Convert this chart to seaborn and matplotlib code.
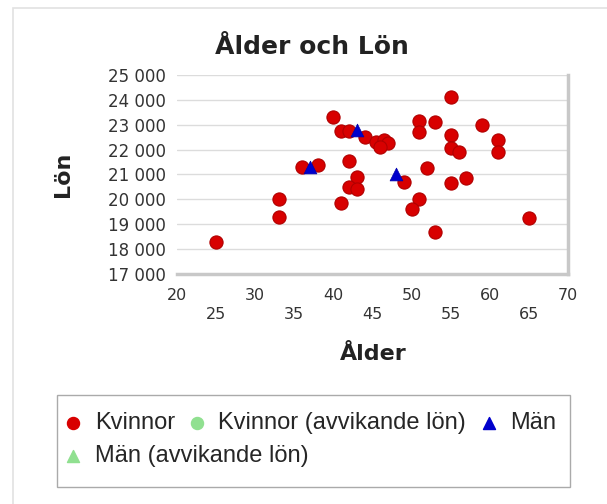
import numpy as np
import pandas as pd
import seaborn as sns
from matplotlib import pyplot as plt
from matplotlib.patches import Rectangle

# data
kvinnor_alder = [25, 33, 33, 36, 38, 40, 41, 42, 44, 45.5, 46.5, 47, 46,
                 42, 43, 42, 43, 41, 55, 51, 51, 53, 59, 55, 55, 56, 61, 61,
                 49, 52, 55, 57, 51, 50, 53, 65]
kvinnor_lon = [18300, 20000, 19300, 21300, 21400, 23300, 22750, 22750, 22500, 22300,
               22400, 22250, 22100, 21550, 20900, 20500, 20400, 19850, 24100, 23150,
               22700, 23100, 23000, 22600, 22050, 21900, 22400, 21900, 20700, 21250,
               20650, 20850, 20000, 19600, 18700, 19250]
man_alder = [37, 43, 48]
man_lon = [21300, 22800, 21000]

x_ticks = list(range(20, 75, 5))
y_ticks = list(range(17000, 26000, 1000))

kv = pd.DataFrame({'Ålder': kvinnor_alder, 'Lön': kvinnor_lon})
ma = pd.DataFrame({'Ålder': man_alder, 'Lön': man_lon})

sns.set_style('white')
plt.rcParams['font.family'] = ['DejaVu Sans']

fig = plt.figure(figsize=(6.07, 5.04), dpi=100)
W, H = 607, 504

# faint outer panel border
fig.patches.append(Rectangle((13 / W, -0.1), 1.2, 1 - 8 / H + 0.1, transform=fig.transFigure,
                             fill=False, edgecolor='#e2e2e2', lw=1.2))

ax = fig.add_axes([177 / W, 1 - 274 / H, 391 / W, 199 / H])

sns.scatterplot(data=kv, x='Ålder', y='Lön', ax=ax, color='#d80000', edgecolor='#b00000',
                linewidth=0.8, s=90, marker='o', label='Kvinnor', zorder=3, legend=False)
sns.scatterplot(data=ma, x='Ålder', y='Lön', ax=ax, color='#0000cc', edgecolor='#0000aa',
                linewidth=0.5, s=85, marker='^', label='Män', zorder=4, legend=False)

ax.set_xlim(20, 70)
ax.set_ylim(17000, 25000)
ax.set_xticks(x_ticks)
ax.set_xticklabels([str(t) for t in x_ticks])
ax.set_yticks(y_ticks)
ax.set_yticklabels([f'{t // 1000} 000' for t in y_ticks])
ax.tick_params(axis='y', labelsize=12, colors='#333333', length=5, width=0.8, pad=3,
               color='#bbbbbb')
ax.tick_params(axis='x', labelsize=11.5, colors='#333333', length=5, width=0.8,
               color='#dddddd', direction='in')
for i, tick in enumerate(ax.xaxis.get_major_ticks()):
    tick.set_pad(10 if i % 2 == 0 else 24)

ax.yaxis.grid(True, color='#dcdcdc', lw=1)
ax.xaxis.grid(False)
ax.set_axisbelow(True)
for side in ['left', 'top']:
    ax.spines[side].set_visible(False)
ax.spines['bottom'].set_color('#c8c8c8')
ax.spines['bottom'].set_linewidth(2.5)
ax.spines['right'].set_color('#c8c8c8')
ax.spines['right'].set_linewidth(2.5)

ax.set_xlabel('')
ax.set_ylabel('Lön', fontsize=16, fontweight='bold', color='#222222')
ax.yaxis.set_label_coords(-0.265, 0.5)

fig.text(312 / W, 1 - 47 / H, 'Ålder och Lön', ha='center', va='center',
         fontsize=18, fontweight='bold', color='#222222')
fig.text(373 / W, 1 - 354 / H, 'Ålder', ha='center', va='center',
         fontsize=16, fontweight='bold', color='#222222')

# legend: box plus two flow rows
fig.patches.append(Rectangle((57 / W, 1 - 487 / H), 513 / W, 92 / H, transform=fig.transFigure,
                             fill=False, edgecolor='#aaaaaa', lw=1))
h_kv = ax.scatter([], [], color='#d80000', marker='o', s=75)
h_kv_avv = ax.scatter([], [], color='#90e090', marker='o', s=75)
h_ma = ax.scatter([], [], color='#0000cc', marker='^', s=75)
h_ma_avv = ax.scatter([], [], color='#90e090', marker='^', s=75)
leg_font = {'family': ['Liberation Sans'], 'size': 17}
fig.legend([h_kv, h_kv_avv, h_ma], ['Kvinnor', 'Kvinnor (avvikande lön)', 'Män'],
           loc='center left', bbox_to_anchor=(64 / W, 1 - 423 / H), ncol=3, frameon=False,
           prop=leg_font, handletextpad=0.5, columnspacing=0.55, handlelength=0.8,
           borderpad=0, borderaxespad=0)
fig.legend([h_ma_avv], ['Män (avvikande lön)'],
           loc='center left', bbox_to_anchor=(64 / W, 1 - 456 / H), frameon=False,
           prop=leg_font, handletextpad=0.5, handlelength=0.8, borderpad=0, borderaxespad=0)

fig.savefig('out.png', dpi=100)
